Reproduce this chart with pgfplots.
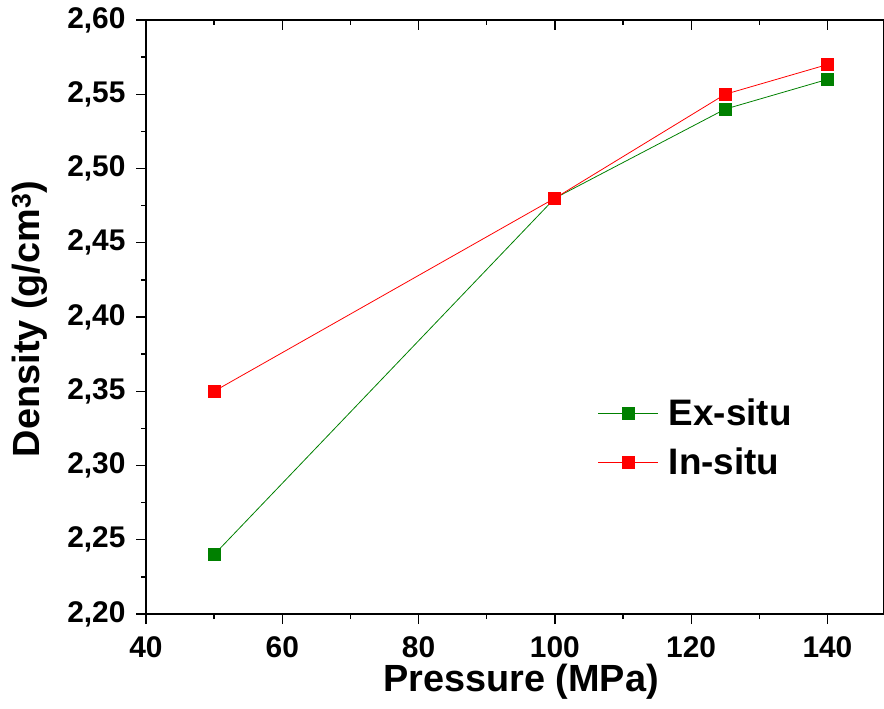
\documentclass[border=0pt]{standalone}
\usepackage{fontspec}
\setmainfont{Liberation Sans}
\usepackage{pgfplots}
\pgfplotsset{compat=1.18}
\definecolor{exgreen}{RGB}{0,128,0}
\definecolor{inred}{RGB}{255,0,0}
\begin{document}
\begin{tikzpicture}
\path[use as bounding box] (-146bp,-95bp) rectangle (738bp,614bp);
\begin{axis}[
  scale only axis,
  width=738bp, height=594bp,
  xmin=40, xmax=148.3, ymin=2.2, ymax=2.6,
  xtick={40,60,80,100,120,140},
  ytick={2.2,2.25,2.3,2.35,2.4,2.45,2.5,2.55,2.6},
  minor x tick num=1, minor y tick num=1,
  xtick pos=bottom, ytick pos=left,
  tick align=outside,
  major tick length=10bp, minor tick length=5bp,
  tick style={black, line width=1.3pt},
  axis line style={line width=1.3pt},
  /pgf/number format/assume math mode=true,
  yticklabel style={xshift=-7bp, /pgf/number format/.cd, use comma, fixed, fixed zerofill, precision=2},
  tick label style={font=\fontsize{30}{34}\selectfont\bfseries},
  xticklabel style={inner sep=0pt, yshift=-12bp},
  xlabel={Pressure (MPa)}, ylabel={Density (g/cm\textsuperscript{3})},
  every axis x label/.style={at={(axis description cs:0.5,0)}, xshift=6bp, yshift=-68bp, anchor=center,
    inner sep=0pt, font=\fontsize{38}{42}\selectfont\bfseries},
  every axis y label/.style={at={(axis description cs:0,0.5)}, xshift=-116bp, yshift=-2bp, rotate=90, anchor=center,
    inner sep=1pt, font=\fontsize{38}{42}\selectfont\bfseries},
  legend style={draw=none, fill=none, at={(axis cs:106.3,2.3189)}, anchor=west,
    inner sep=0pt, font=\fontsize{37}{40}\selectfont\bfseries,
    nodes={inner sep=0pt, text height=26bp, text depth=0bp},
    row sep=23bp, column sep=10bp},
  legend cell align=left,
  legend image code/.code={
    \draw[#1, mark=none] (0bp,0bp) -- (60bp,0bp);
    \draw[#1, only marks] plot coordinates {(30bp,0bp)};
  },
]
\addplot[exgreen, line width=0.8pt, mark=square*, mark size=6bp, mark options={solid}]
  coordinates {(50,2.24) (100,2.48) (125,2.54) (140,2.56)};
\addlegendentry{Ex-situ}
\addplot[inred, line width=0.8pt, mark=square*, mark size=6bp, mark options={solid}]
  coordinates {(50,2.35) (100,2.48) (125,2.55) (140,2.57)};
\addlegendentry{In-situ}
\end{axis}
\begin{axis}[
  scale only axis,
  width=738bp, height=594bp,
  xmin=40, xmax=148.3, ymin=2.2, ymax=2.6,
  axis x line*=top, axis y line=none,
  xtick={40,60,80,100,120,140}, minor x tick num=1,
  xticklabels={},
  tick align=inside,
  major tick length=10bp, minor tick length=5bp,
  tick style={black, line width=1.3pt},
  axis line style={line width=1.3pt, -},
]
\end{axis}
\end{tikzpicture}
\end{document}
